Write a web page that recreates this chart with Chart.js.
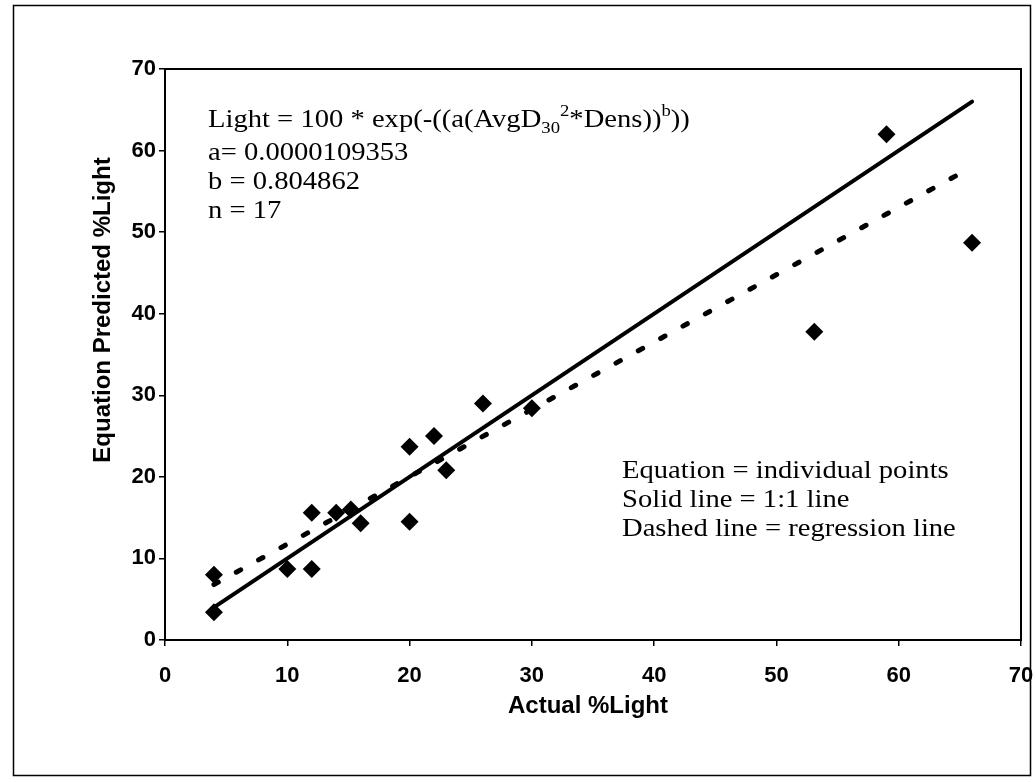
<!DOCTYPE html>
<html>
<head>
<meta charset="utf-8">
<script src="https://cdn.jsdelivr.net/npm/chart.js@4/dist/chart.umd.min.js"></script>
<style>
  html, body { margin: 0; padding: 0; background: #fff; }
  #wrap { width: 1036px; height: 782px; position: relative; }
</style>
</head>
<body>
<div id="wrap"><canvas id="c" width="1036" height="782"></canvas></div>
<script>
// ---- data ----
const actualLight    = [4.0, 4.0, 10.0, 12.0, 12.0, 14.0, 15.2, 16.0, 20.0, 20.0, 22.0, 23.0, 26.0, 30.0, 53.1, 59.0, 66.0];
const predictedLight = [3.4, 8.0, 8.7, 8.7, 15.6, 15.6, 16.0, 14.3, 14.5, 23.7, 25.0, 20.8, 29.0, 28.4, 37.8, 62.0, 48.7];
const oneToOneX   = [4, 66];
const oneToOneY   = [4, 66];
const regressionX = [4, 66];
const regressionY = [6.8, 58];
const xTicks = [0, 10, 20, 30, 40, 50, 60, 70];
const yTicks = [0, 10, 20, 30, 40, 50, 60, 70];
const xTitle = 'Actual %Light';
const yTitle = 'Equation Predicted %Light';
const noteTop = [
  [{t: 'Light = 100 * exp(-((a(AvgD'}, {t: '30', s: 'sub'}, {t: '2', s: 'sup'}, {t: '*Dens))'}, {t: 'b', s: 'sup'}, {t: '))'}],
  [{t: 'a= 0.0000109353'}],
  [{t: 'b = 0.804862'}],
  [{t: 'n = 17'}]
];
const noteBottom = [
  'Equation = individual points',
  'Solid line = 1:1 line',
  'Dashed line = regression line'
];

const pts = (xs, ys) => xs.map((x, i) => ({x: x, y: ys[i]}));

const decor = {
  id: 'decor',
  afterDraw(chart) {
    const ctx = chart.ctx;
    const a = chart.chartArea;
    ctx.save();
    // outer frame
    ctx.strokeStyle = '#000';
    ctx.lineWidth = 1.5;
    ctx.strokeRect(13.5, 5.5, 1017, 770);
    // plot frame
    ctx.lineWidth = 2;
    ctx.strokeRect(a.left, a.top, a.right - a.left, a.bottom - a.top);
    // axis titles
    ctx.fillStyle = '#000';
    ctx.textAlign = 'center';
    ctx.textBaseline = 'middle';
    ctx.font = 'bold 24px "Liberation Sans Narrow", "Liberation Sans", Arial, sans-serif';
    ctx.fillText(xTitle, 588, 706);
    ctx.save();
    ctx.translate(103, 310);
    ctx.rotate(-Math.PI / 2);
    ctx.font = 'bold 24px "Liberation Sans", Arial, sans-serif';
    ctx.fillText(yTitle, 0, 0);
    ctx.restore();
    // annotations (Times-like, slightly wide as in the scan)
    ctx.textAlign = 'left';
    ctx.textBaseline = 'alphabetic';
    const base = 26;
    const sx = 1.1;
    const serif = '"Liberation Serif", "Times New Roman", serif';
    const baselines = [127, 160, 189, 218];
    noteTop.forEach((line, li) => {
      let x = 208;
      const y = baselines[li];
      line.forEach((seg) => {
        let size = base, dy = 0;
        if (seg.s === 'sub') { size = 17; dy = 6; }
        if (seg.s === 'sup') { size = 17; dy = -11; }
        ctx.font = size + 'px ' + serif;
        ctx.save();
        ctx.translate(x, y + dy);
        ctx.scale(sx, 1);
        ctx.fillText(seg.t, 0, 0);
        ctx.restore();
        x += ctx.measureText(seg.t).width * sx;
      });
    });
    ctx.font = base + 'px ' + serif;
    noteBottom.forEach((s, i) => {
      ctx.save();
      ctx.translate(622, 478 + i * 29);
      ctx.scale(sx, 1);
      ctx.fillText(s, 0, 0);
      ctx.restore();
    });
    ctx.restore();
  }
};

new Chart(document.getElementById('c'), {
  type: 'scatter',
  data: {
    datasets: [
      {
        label: 'Equation',
        data: pts(actualLight, predictedLight),
        pointStyle: 'rectRot',
        pointRadius: 9,
        pointHoverRadius: 9,
        backgroundColor: '#000',
        borderColor: '#000',
        borderWidth: 0,
        showLine: false,
        order: 0
      },
      {
        label: '1:1',
        data: pts(oneToOneX, oneToOneY),
        showLine: true,
        borderColor: '#000',
        borderWidth: 4,
        pointRadius: 0,
        borderCapStyle: 'round',
        order: 1
      },
      {
        label: 'Regression',
        data: pts(regressionX, regressionY),
        showLine: true,
        borderColor: '#000',
        borderWidth: 5,
        borderDash: [5, 20.5],
        borderCapStyle: 'round',
        pointRadius: 0,
        order: 2
      }
    ]
  },
  options: {
    responsive: false,
    animation: false,
    layout: { padding: { top: 69, right: 15, left: 0, bottom: 0 } },
    plugins: {
      legend: { display: false },
      tooltip: { enabled: false },
      title: { display: false }
    },
    scales: {
      x: {
        type: 'linear',
        min: 0, max: 70,
        afterBuildTicks: (s) => { s.ticks = xTicks.map(v => ({value: v})); },
        afterFit: (s) => { s.height = 142; s.paddingRight = 0; s.paddingLeft = 0; },
        grid: { drawOnChartArea: false, tickLength: 6, color: '#000', lineWidth: 1.5 },
        border: { display: true, color: '#000', width: 2 },
        ticks: {
          color: '#000',
          padding: 17,
          maxRotation: 0,
          font: { family: '"Liberation Sans Narrow", "Liberation Sans", Arial, sans-serif', size: 22, weight: 'bold' }
        }
      },
      y: {
        type: 'linear',
        min: 0, max: 70,
        afterBuildTicks: (s) => { s.ticks = yTicks.map(v => ({value: v})); },
        afterFit: (s) => { s.width = 165; s.paddingTop = 0; s.paddingBottom = 0; },
        grid: { drawOnChartArea: false, tickLength: 6, color: '#000', lineWidth: 1.5 },
        border: { display: true, color: '#000', width: 2 },
        ticks: {
          color: '#000',
          padding: 3,
          font: { family: '"Liberation Sans", Arial, sans-serif', size: 22, weight: 'bold' }
        }
      }
    }
  },
  plugins: [decor]
});
</script>
</body>
</html>
